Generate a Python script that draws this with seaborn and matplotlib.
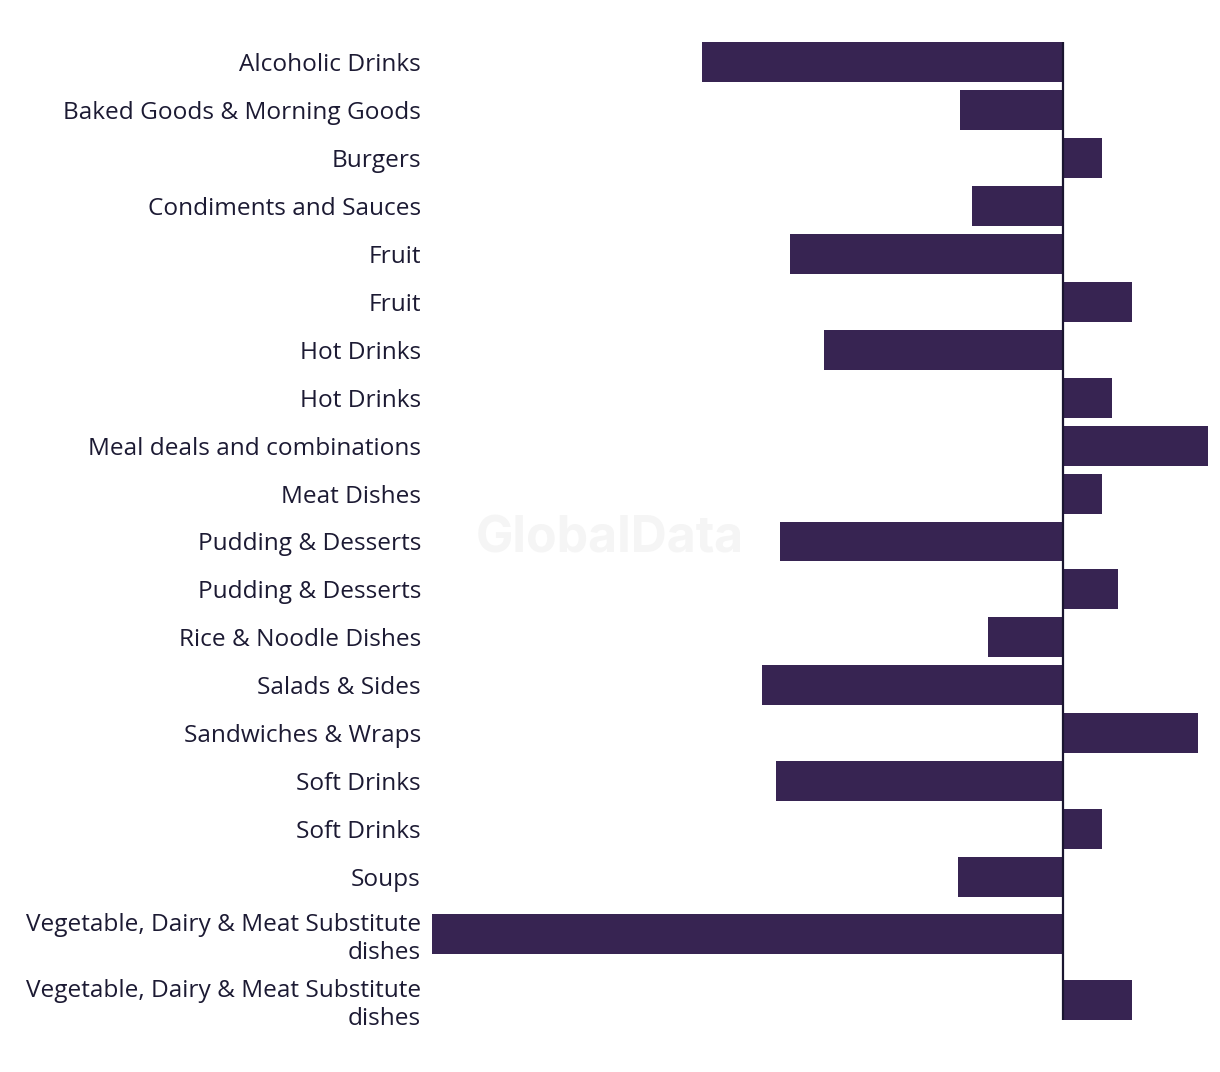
import numpy as np
import pandas as pd
import matplotlib
matplotlib.use("Agg")
import matplotlib.pyplot as plt
import seaborn as sns

categories = [
    "Alcoholic Drinks", "Baked Goods & Morning Goods", "Burgers",
    "Condiments and Sauces", "Fruit", "Fruit", "Hot Drinks", "Hot Drinks",
    "Meal deals and combinations", "Meat Dishes", "Pudding & Desserts",
    "Pudding & Desserts", "Rice & Noodle Dishes", "Salads & Sides",
    "Sandwiches & Wraps", "Soft Drinks", "Soft Drinks", "Soups",
    "Vegetable, Dairy & Meat Substitute\ndishes",
    "Vegetable, Dairy & Meat Substitute\ndishes",
]
values = [-36.1, -10.3, 3.9, -9.1, -27.3, 6.9, -23.9, 4.9, 14.5, 3.9,
          -28.3, 5.5, -7.5, -30.1, 13.5, -28.7, 3.9, -10.5, -63.1, 6.9]

sns.set_theme(style="white")
plt.rcParams["font.family"] = ["Open Sans", "DejaVu Sans"]

# row layout: two-line labels take taller rows
heights = [1.375 if "\n" in c else 1.0 for c in categories]
pos = []
cur = 0.0
for i, h in enumerate(heights):
    if i > 0:
        cur += (heights[i - 1] + h) / 2
    pos.append(cur)

df = pd.DataFrame({"value": values, "pos": pos})

fig = plt.figure(figsize=(12.2, 10.72), dpi=100)
W, H = 1220, 1072
ax = fig.add_axes([432 / W, 1 - 1020 / H, (1208 - 432) / W, (1020 - 42) / H])

bar_color = "#372452"
sns.barplot(data=df, x="value", y="pos", orient="h", native_scale=True,
            width=40 / 48, color=bar_color, saturation=1, ax=ax,
            linewidth=0, zorder=2)

half = (40 / 48) / 2
ax.set_ylim(pos[-1] + half, pos[0] - half)
ax.set_xlim(min(values), max(values))
ax.axvline(0, color="#1a1530", linewidth=1.6, zorder=3)

ax.set_yticks(pos)
ax.set_yticklabels(categories, fontsize=17.6, color="#1c1a33", linespacing=1.22)
ax.tick_params(axis="y", length=0, pad=8)
ax.set_xticks([])
ax.set_xlabel("")
ax.set_ylabel("")
for s in ax.spines.values():
    s.set_visible(False)

fig.text(610 / W, 1 - 539 / H, "GlobalData", ha="center", va="center",
         fontsize=36, fontweight="bold", color="#f5f5f5", zorder=0,
         family=["Inter", "DejaVu Sans"])

fig.savefig("out.png", dpi=100)
